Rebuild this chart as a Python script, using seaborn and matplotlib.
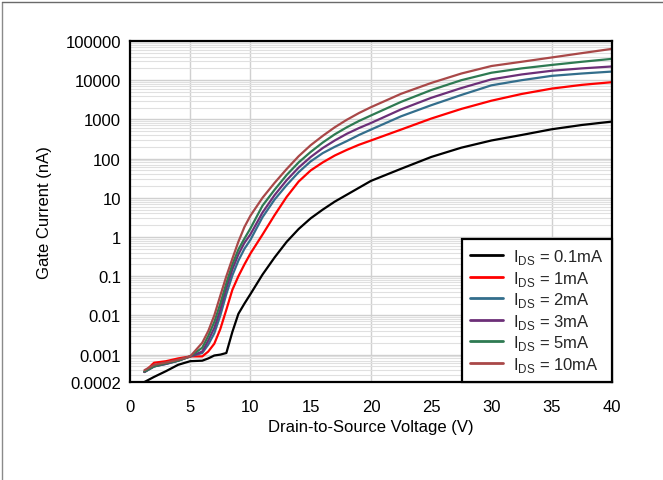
import matplotlib
matplotlib.use("Agg")
import matplotlib.pyplot as plt
from matplotlib.ticker import FixedLocator, LogLocator, NullFormatter
from matplotlib.lines import Line2D
import numpy as np
import pandas as pd
import seaborn as sns

# Drain-to-source voltage sweep (V)
vds = [1.2, 2, 3, 4, 5, 6, 6.5, 7, 7.5, 8, 8.5, 9, 9.5, 10, 11, 12, 13, 14, 15, 16,
       17, 18, 19, 20, 22.5, 25, 27.5, 30, 32.5, 35, 37.5, 40]

# Gate current (nA) for each drain current
ig_0p1ma = [0.0002, 0.00027, 0.00038, 0.00055, 0.00068, 0.0007, 0.0008, 0.00095, 0.001, 0.0011,
            0.0038, 0.011, 0.02, 0.035, 0.11, 0.3, 0.75, 1.6, 3.0, 5.0,
            8.0, 12, 18, 27, 55, 110, 190, 290, 400, 560, 720, 880]
ig_1ma = [0.00036, 0.00062, 0.00068, 0.0008, 0.0009, 0.0009, 0.0012, 0.0019, 0.0045, 0.014,
          0.045, 0.1, 0.2, 0.38, 1.15, 3.6, 10.5, 26, 50, 80,
          120, 167, 225, 290, 550, 1050, 1850, 3000, 4450, 6100, 7600, 8900]
ig_2ma = [0.00036, 0.0005, 0.00058, 0.0007, 0.0009, 0.0011, 0.0018, 0.0035, 0.01, 0.035,
          0.105, 0.25, 0.5, 0.85, 3.2, 9, 21, 45, 85, 138,
          200, 280, 400, 550, 1200, 2300, 4200, 7400, 10000, 12900, 14800, 16600]
ig_3ma = [0.00036, 0.0005, 0.00058, 0.0007, 0.0009, 0.0012, 0.0023, 0.0048, 0.014, 0.05,
          0.15, 0.36, 0.71, 1.17, 4.2, 11.7, 28, 59, 110, 186,
          290, 430, 600, 810, 1800, 3550, 6300, 10500, 14000, 17400, 20000, 22400]
ig_5ma = [0.00037, 0.0005, 0.0006, 0.0007, 0.0009, 0.0015, 0.003, 0.0068, 0.02, 0.066,
          0.2, 0.48, 0.91, 1.66, 6.3, 16, 38, 80, 148, 257,
          417, 630, 910, 1260, 2800, 5600, 10000, 15500, 20000, 24500, 29500, 35000]
ig_10ma = [0.0004, 0.00055, 0.00063, 0.00074, 0.0009, 0.002, 0.004, 0.01, 0.032, 0.1,
           0.28, 0.76, 1.8, 3.5, 10, 24, 54, 115, 220, 380,
           630, 980, 1450, 2050, 4500, 8500, 14800, 23000, 29500, 38000, 49000, 63000]

series_labels = [r"I$_{\mathregular{DS}}$ = 0.1mA", r"I$_{\mathregular{DS}}$ = 1mA",
                 r"I$_{\mathregular{DS}}$ = 2mA", r"I$_{\mathregular{DS}}$ = 3mA",
                 r"I$_{\mathregular{DS}}$ = 5mA", r"I$_{\mathregular{DS}}$ = 10mA"]
series_values = [ig_0p1ma, ig_1ma, ig_2ma, ig_3ma, ig_5ma, ig_10ma]
series_colors = ["#000000", "#ff0000", "#336e8c", "#6c2f78", "#2e7a52", "#a94848"]

y_ticks = [0.0002, 0.001, 0.01, 0.1, 1, 10, 100, 1000, 10000, 100000]
y_tick_labels = ["0.0002", "0.001", "0.01", "0.1", "1", "10", "100", "1000", "10000", "100000"]
x_ticks = [0, 5, 10, 15, 20, 25, 30, 35, 40]
x_grid = [5, 10, 20, 35]

sns.set_theme(style="white")
plt.rcParams["font.family"] = ["Liberation Sans", "DejaVu Sans"]
plt.rcParams["mathtext.fontset"] = "custom"
plt.rcParams["mathtext.rm"] = "Liberation Sans"

df = pd.concat(
    [pd.DataFrame({"Vds": vds, "Ig": vals, "series": lab})
     for lab, vals in zip(series_labels, series_values)],
    ignore_index=True)

fig = plt.figure(figsize=(6.63, 4.81), dpi=100)
ax = fig.add_axes([0.196, 0.2037, 0.727, 0.709])

ax.set_yscale("log")
ax.set_xlim(0, 40)
ax.set_ylim(0.0002, 100000)

# grid
ax.yaxis.set_minor_locator(LogLocator(base=10, subs=np.arange(2, 10)))
ax.yaxis.set_minor_formatter(NullFormatter())
ax.grid(True, which="major", axis="y", color="#d0d0d0", linewidth=1.0)
ax.grid(True, which="minor", axis="y", color="#e0e0e0", linewidth=0.8)
for gx in x_grid:
    ax.axvline(gx, color="#d0d0d0", linewidth=1.0, zorder=0.5)
ax.set_axisbelow(True)

sns.lineplot(data=df, x="Vds", y="Ig", hue="series", hue_order=series_labels,
             palette=series_colors, linewidth=1.6, sort=False, estimator=None,
             ax=ax, legend=True)

ax.yaxis.set_major_locator(FixedLocator(y_ticks))
ax.set_yticklabels(y_tick_labels)
ax.set_xticks(x_ticks)
ax.tick_params(axis="both", which="both", length=0, labelsize=12, colors="black")
ax.tick_params(axis="y", pad=6.5)
ax.tick_params(axis="x", pad=12.5)

for sp in ax.spines.values():
    sp.set_color("black")
    sp.set_linewidth(1.6)

ax.set_xlabel("Drain-to-Source Voltage (V)", fontsize=12, color="black", labelpad=3)
ax.set_ylabel("Gate Current (nA)", fontsize=12, color="black", labelpad=10)

handles, labels = ax.get_legend_handles_labels()
leg = ax.legend(handles, labels, loc="lower right", bbox_to_anchor=(1, 0),
                borderaxespad=0, fontsize=12, frameon=True, fancybox=False,
                handlelength=2.0, handletextpad=0.6, labelspacing=0.15,
                borderpad=0.5)
leg.get_frame().set_edgecolor("black")
leg.get_frame().set_linewidth(1.6)
leg.get_frame().set_alpha(1)
for ln in leg.get_lines():
    ln.set_linewidth(2.0)

# page frame
fig.add_artist(Line2D([0.003, 0.003], [0, 0.994], transform=fig.transFigure,
                      color="#8a8a8a", linewidth=1.0))
fig.add_artist(Line2D([0.003, 1.0], [0.994, 0.994], transform=fig.transFigure,
                      color="#6a6a6a", linewidth=1.0))

fig.savefig("out.png", dpi=100)
